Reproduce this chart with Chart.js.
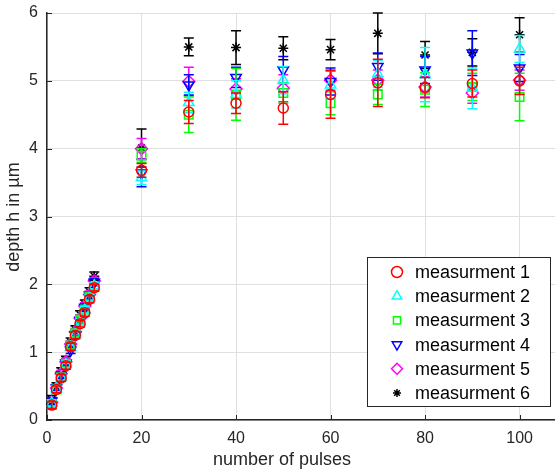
<!DOCTYPE html>
<html>
<head>
<meta charset="utf-8">
<script src="https://cdn.jsdelivr.net/npm/chart.js@4.4.1/dist/chart.umd.min.js"></script>
<style>
  html, body { margin: 0; padding: 0; background: #fff; overflow: hidden; }
  #wrap { width: 555px; height: 471px; overflow: hidden; }
</style>
</head>
<body>
<div id="wrap"><canvas id="depthChart" width="563" height="471"></canvas></div>
<script>
// number of pulses (x)
const pulses = [1, 2, 3, 4, 5, 6, 7, 8, 9, 10, 20, 30, 40, 50, 60, 70, 80, 90, 100];

// mean depth per measurement (µm)
const depth1 = [0.22, 0.45, 0.62, 0.80, 1.08, 1.25, 1.42, 1.58, 1.78, 1.95, 3.68, 4.54, 4.67, 4.60, 4.80, 4.97, 4.90, 4.96, 5.00];
const depth2 = [0.25, 0.46, 0.63, 0.82, 1.07, 1.26, 1.45, 1.62, 1.80, 1.98, 3.57, 4.68, 4.80, 5.01, 4.94, 5.10, 5.09, 4.89, 5.47];
const depth3 = [0.22, 0.45, 0.63, 0.83, 1.10, 1.28, 1.48, 1.63, 1.82, 1.96, 3.90, 4.50, 4.80, 4.82, 4.67, 4.80, 4.87, 4.91, 4.76];
const depth4 = [0.28, 0.47, 0.66, 0.84, 1.03, 1.25, 1.47, 1.66, 1.84, 2.03, 3.64, 4.94, 5.05, 5.16, 4.99, 5.21, 5.16, 5.41, 5.19];
const depth5 = [0.26, 0.47, 0.68, 0.86, 1.12, 1.30, 1.50, 1.68, 1.85, 2.05, 4.00, 4.99, 4.88, 4.89, 5.01, 5.01, 4.91, 4.82, 5.01];
const depth6 = [0.30, 0.49, 0.71, 0.88, 1.15, 1.33, 1.55, 1.71, 1.89, 2.12, 4.01, 5.50, 5.49, 5.48, 5.46, 5.70, 5.38, 5.42, 5.68];

// error (± µm)
const err1 = [0.05, 0.05, 0.05, 0.05, 0.05, 0.05, 0.05, 0.05, 0.05, 0.05, 0.10, 0.17, 0.15, 0.24, 0.35, 0.35, 0.15, 0.20, 0.20];
const err2 = [0.05, 0.05, 0.05, 0.05, 0.05, 0.05, 0.05, 0.05, 0.05, 0.05, 0.10, 0.15, 0.20, 0.20, 0.20, 0.20, 0.40, 0.30, 0.20];
const err3 = [0.05, 0.05, 0.05, 0.05, 0.05, 0.05, 0.05, 0.05, 0.05, 0.05, 0.10, 0.26, 0.38, 0.15, 0.17, 0.15, 0.25, 0.20, 0.35];
const err4 = [0.05, 0.05, 0.05, 0.05, 0.05, 0.05, 0.05, 0.05, 0.05, 0.05, 0.20, 0.15, 0.15, 0.20, 0.20, 0.20, 0.20, 0.33, 0.20];
const err5 = [0.05, 0.05, 0.05, 0.05, 0.05, 0.05, 0.05, 0.05, 0.05, 0.05, 0.15, 0.21, 0.15, 0.20, 0.15, 0.15, 0.15, 0.15, 0.15];
const err6 = [0.06, 0.06, 0.06, 0.06, 0.06, 0.06, 0.06, 0.06, 0.06, 0.06, 0.28, 0.13, 0.25, 0.17, 0.15, 0.30, 0.20, 0.20, 0.25];

const seriesNames = ['measurment 1', 'measurment 2', 'measurment 3', 'measurment 4', 'measurment 5', 'measurment 6'];
const seriesColors = ['#ff0000', '#00ffff', '#00ff00', '#0000ff', '#ff00ff', '#000000'];
const seriesStyles = ['circle', 'triangle', 'rect', 'triangle', 'rectRot', 'star'];
const seriesRotation = [0, 0, 0, 180, 0, 0];
const seriesRadius = [5, 6, 6, 6, 6, 5];

const xTicks = [0, 20, 40, 60, 80, 100];
const yTicks = [0, 1, 2, 3, 4, 5, 6];

const allDepth = [depth1, depth2, depth3, depth4, depth5, depth6];
const allErr = [err1, err2, err3, err4, err5, err6];

const FONT = '"Liberation Sans", Arial, sans-serif';
const AXIS_COLOR = '#262626';

const datasets = allDepth.map((vals, i) => ({
    label: seriesNames[i],
    data: pulses.map((p, j) => ({ x: p, y: vals[j], err: allErr[i][j] })),
    borderColor: seriesColors[i],
    backgroundColor: 'rgba(0,0,0,0)',
    pointStyle: seriesStyles[i],
    rotation: seriesRotation[i],
    pointRadius: seriesRadius[i],
    pointBorderWidth: 1.5,
    showLine: false
}));

// vertical error bars with caps, drawn per dataset just before its markers
const errorBars = {
    id: 'errorBars',
    beforeDatasetDraw(chart, args) {
        const ctx = chart.ctx;
        const ds = chart.data.datasets[args.index];
        const xs = chart.scales.x;
        const ys = chart.scales.y;
        ctx.save();
        ctx.strokeStyle = ds.borderColor;
        ctx.lineWidth = 1.5;
        ds.data.forEach(pt => {
            const px = xs.getPixelForValue(pt.x);
            const top = ys.getPixelForValue(pt.y + pt.err);
            const bot = ys.getPixelForValue(pt.y - pt.err);
            ctx.beginPath();
            ctx.moveTo(px, top); ctx.lineTo(px, bot);
            ctx.moveTo(px - 5, top); ctx.lineTo(px + 5, top);
            ctx.moveTo(px - 5, bot); ctx.lineTo(px + 5, bot);
            ctx.stroke();
        });
        ctx.restore();
    }
};

// inward ticks, axis titles and the boxed legend (MATLAB look)
const decorations = {
    id: 'decorations',
    afterDraw(chart) {
        const ctx = chart.ctx;
        const area = chart.chartArea;
        const xs = chart.scales.x;
        const ys = chart.scales.y;
        ctx.save();
        ctx.strokeStyle = AXIS_COLOR;
        ctx.lineWidth = 1;
        ctx.beginPath();
        xTicks.forEach(v => {
            const px = Math.round(xs.getPixelForValue(v)) + 0.5;
            ctx.moveTo(px, area.bottom); ctx.lineTo(px, area.bottom - 5);
        });
        yTicks.forEach(v => {
            const py = Math.round(ys.getPixelForValue(v)) + 0.5;
            ctx.moveTo(area.left, py); ctx.lineTo(area.left + 5, py);
        });
        ctx.stroke();

        ctx.fillStyle = AXIS_COLOR;
        ctx.font = '18px ' + FONT;
        ctx.textAlign = 'center';
        ctx.textBaseline = 'alphabetic';
        ctx.fillText('number of pulses', 282, 465);
        ctx.translate(19, 217);
        ctx.rotate(-Math.PI / 2);
        ctx.fillText('depth h in µm', 0, 0);
        ctx.restore();

        // legend
        ctx.save();
        ctx.fillStyle = '#ffffff';
        ctx.fillRect(367.5, 257.5, 183, 149);
        ctx.strokeStyle = AXIS_COLOR;
        ctx.lineWidth = 1;
        ctx.strokeRect(367.5, 257.5, 183, 149);
        ctx.font = '18px ' + FONT;
        ctx.textAlign = 'left';
        ctx.textBaseline = 'middle';
        seriesNames.forEach((name, i) => {
            const y = 272 + i * 24.2;
            ctx.strokeStyle = seriesColors[i];
            ctx.fillStyle = 'rgba(0,0,0,0)';
            ctx.lineWidth = 1.5;
            Chart.helpers.drawPoint(ctx, {
                pointStyle: seriesStyles[i],
                rotation: seriesRotation[i],
                radius: i === 2 ? 5 : (i === 5 ? 4 : 5.5),
                borderWidth: 1.5
            }, 397, y);
            ctx.fillStyle = '#000000';
            ctx.fillText(name, 415, y + 1);
        });
        ctx.restore();
    }
};

new Chart(document.getElementById('depthChart'), {
    type: 'scatter',
    data: { datasets },
    options: {
        responsive: false,
        animation: false,
        layout: { padding: { top: 13, right: 0, left: 0, bottom: 0 } },
        plugins: {
            legend: { display: false },
            tooltip: { enabled: false }
        },
        scales: {
            x: {
                type: 'linear',
                min: 0,
                max: 107.6,
                afterBuildTicks: scale => {
                    scale.ticks = xTicks.map(v => ({ value: v }));
                },
                afterFit: scale => {
                    scale.height = 51;
                    scale.paddingLeft = 0;
                    scale.paddingRight = 0;
                },
                ticks: {
                    color: AXIS_COLOR,
                    font: { family: FONT, size: 16 },
                    padding: 9,
                    maxRotation: 0
                },
                grid: { color: '#dfdfdf', lineWidth: 1, drawTicks: false },
                border: { display: true, color: AXIS_COLOR, width: 1.5 }
            },
            y: {
                type: 'linear',
                min: 0,
                max: 6,
                afterBuildTicks: scale => {
                    scale.ticks = yTicks.map(v => ({ value: v }));
                },
                afterFit: scale => {
                    scale.width = 47;
                    scale.paddingTop = 0;
                    scale.paddingBottom = 0;
                },
                ticks: {
                    color: AXIS_COLOR,
                    font: { family: FONT, size: 16 },
                    padding: 9
                },
                grid: { color: '#dfdfdf', lineWidth: 1, drawTicks: false },
                border: { display: true, color: AXIS_COLOR, width: 1.5 }
            }
        }
    },
    plugins: [errorBars, decorations]
});
</script>
</body>
</html>
